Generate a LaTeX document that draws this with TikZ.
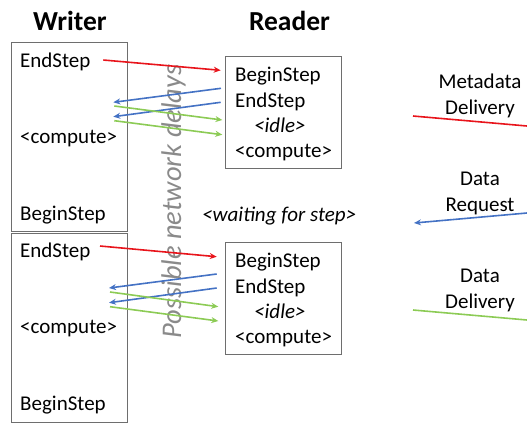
\documentclass[tikz,border=0pt]{standalone}
\usepackage{fontspec}
\setmainfont{Carlito}
\usetikzlibrary{arrows.meta}
\definecolor{msgred}{HTML}{E8141B}
\definecolor{msgblue}{HTML}{4472C4}
\definecolor{msggreen}{HTML}{8CCB55}
\definecolor{boxgray}{HTML}{6E6E6E}
\definecolor{delaygray}{HTML}{8A8A8A}

\begin{document}
\begin{tikzpicture}[
    x=1pt, y=-1pt,
    headtext/.style={
        font=\fontsize{27.5}{32}\selectfont\bfseries,
        anchor=base,
        inner sep=0pt
    },
    steptext/.style={
        font=\fontsize{21}{25}\selectfont,
        anchor=base west,
        inner sep=0pt
    },
    legendtext/.style={
        font=\fontsize{21}{25.8}\selectfont,
        align=center,
        anchor=base,
        inner sep=0pt
    },
    wbox/.style={
        rectangle,
        draw=boxgray,
        line width=1pt,
        minimum width=115.6pt,
        minimum height=189.2pt,
        inner sep=0pt
    },
    rbox/.style={
        rectangle,
        draw=boxgray,
        line width=1pt,
        minimum width=115.7pt,
        minimum height=111.6pt,
        inner sep=0pt
    },
    msg/.style={
        -{Stealth[length=7pt, width=6pt]},
        line width=1.6pt
    }
]
    \useasboundingbox (0,0) rectangle (527,424);

    % Headings
    \node[headtext] (writer) at (70,30) {Writer};
    \node[headtext] (reader) at (289.5,30) {Reader};

    % Writer steps
    \node[wbox] (wbox1) at (69.5,137.2) {};
    \node[wbox] (wbox2) at (69.5,328) {};
    \node[steptext] (wend1) at (20,67) {EndStep};
    \node[steptext] (wcomp1) at (20,143) {<compute>};
    \node[steptext] (wbegin1) at (20,220) {BeginStep};
    \node[steptext] (wend2) at (20,257) {EndStep};
    \node[steptext] (wcomp2) at (20,333) {<compute>};
    \node[steptext] (wbegin2) at (20,410) {BeginStep};

    % Reader steps
    \node[rbox] (rbox1) at (283.8,112.5) {};
    \node[rbox] (rbox2) at (283.8,298.5) {};
    \node[steptext] (rbegin1) at (235,81) {BeginStep};
    \node[steptext] (rend1) at (235,107) {EndStep};
    \node[steptext] (ridle1) at (254,132) {\itshape <idle>};
    \node[steptext] (rcomp1) at (235,157) {<compute>};
    \node[steptext] (rbegin2) at (235,267) {BeginStep};
    \node[steptext] (rend2) at (235,293) {EndStep};
    \node[steptext] (ridle2) at (254,318) {\itshape <idle>};
    \node[steptext] (rcomp2) at (235,343) {<compute>};
    \node[steptext] (wait) at (202,221) {\itshape <waiting for step>};

    % Network delays
    \node[font=\fontsize{28.5}{32}\selectfont\itshape, text=delaygray, rotate=90,
        anchor=base, inner sep=0pt] (delays) at (181,201.5) {Possible network delays};

    % Legend
    \node[legendtext] (metalbl) at (480,114) {Metadata\\Delivery};
    \node[legendtext] (reqlbl) at (480,211) {Data\\Request};
    \node[legendtext] (datalbl) at (480,308) {Data\\Delivery};

    % Message end points
    \coordinate (r1s) at (103.3,60);     \coordinate (r1e) at (220.7,70.3);
    \coordinate (b1s) at (221,88.3);     \coordinate (b1e) at (113.3,102.3);
    \coordinate (b2s) at (220.7,102.3);  \coordinate (b2e) at (113.3,116.7);
    \coordinate (g1s) at (114.3,106);    \coordinate (g1e) at (222.3,120);
    \coordinate (g2s) at (114.3,120.7);  \coordinate (g2e) at (222.3,134.7);
    \coordinate (r2s) at (100,246);      \coordinate (r2e) at (216.7,256.7);
    \coordinate (b3s) at (216.7,274);    \coordinate (b3e) at (109,288);
    \coordinate (b4s) at (216.7,288);    \coordinate (b4e) at (109,302.7);
    \coordinate (g3s) at (110,292);      \coordinate (g3e) at (218.3,306.7);
    \coordinate (g4s) at (110,306.7);    \coordinate (g4e) at (218.3,321);
    \coordinate (lrs) at (413,116);      \coordinate (lre) at (527,126);
    \coordinate (lbs) at (527,213);      \coordinate (lbe) at (414,223);
    \coordinate (lgs) at (413,310);      \coordinate (lge) at (527,320);

    % Messages
    \draw[msg, msgred] (r1s) -- (r1e);
    \draw[msg, msgblue] (b1s) -- (b1e);
    \draw[msg, msgblue] (b2s) -- (b2e);
    \draw[msg, msggreen] (g1s) -- (g1e);
    \draw[msg, msggreen] (g2s) -- (g2e);
    \draw[msg, msgred] (r2s) -- (r2e);
    \draw[msg, msgblue] (b3s) -- (b3e);
    \draw[msg, msgblue] (b4s) -- (b4e);
    \draw[msg, msggreen] (g3s) -- (g3e);
    \draw[msg, msggreen] (g4s) -- (g4e);

    % Legend lines
    \draw[line width=1.6pt, msgred] (lrs) -- (lre);
    \draw[msg, msgblue] (lbs) -- (lbe);
    \draw[line width=1.6pt, msggreen] (lgs) -- (lge);
\end{tikzpicture}
\end{document}
